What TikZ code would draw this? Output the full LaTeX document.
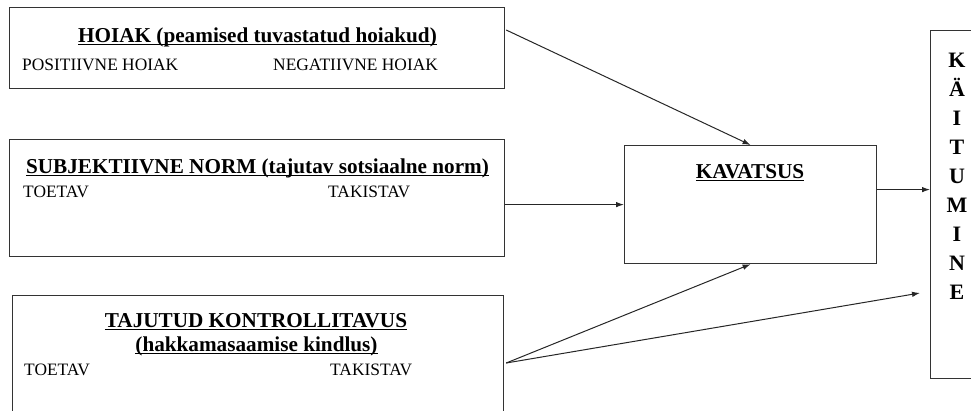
\documentclass[tikz,border=0pt]{standalone}
\usepackage{fontspec}
\setmainfont{Liberation Serif}
\usetikzlibrary{arrows.meta,calc}
\newcommand\myul[1]{\setbox0\hbox{#1}\rlap{\rule[-2.6pt]{\wd0}{1.1pt}}\box0}
\begin{document}
\begin{tikzpicture}[x=1pt,y=-1pt,
  box/.style={draw=black!80,line width=1.2pt,rectangle,anchor=north west,inner sep=0},
  ttl/.style={font=\fontsize{21.2}{24}\selectfont\bfseries,inner sep=0,anchor=base},
  sub/.style={font=\fontsize{17.4}{20}\selectfont,inner sep=0,anchor=base west},
  arr/.style={draw=black!85,line width=1pt,-{Latex[length=8pt,width=5.5pt]}}]
\useasboundingbox (0,0) rectangle (971,410);
\clip (0,0) rectangle (971,410);
% boxes
\node[box,minimum width=495pt,minimum height=81pt] (b1) at (9,7) {};
\node[box,minimum width=495pt,minimum height=117pt] (b2) at (9,139) {};
\node[box,minimum width=491pt,minimum height=135pt] (b3) at (12,295) {};
\node[box,minimum width=252pt,minimum height=118pt] (kav) at (624,145) {};
\node[box,minimum width=70pt,minimum height=348pt] (kait) at (930,30) {};
% texts box 1
\node[ttl] (t1) at (257.5,42) {\myul{HOIAK (peamised tuvastatud hoiakud)}};
\node[sub] (p1) at (22,70) {POSITIIVNE HOIAK};
\node[sub] (n1) at (273,70) {NEGATIIVNE HOIAK};
% texts box 2
\node[ttl] (t2) at (257.5,173) {\myul{SUBJEKTIIVNE NORM (tajutav sotsiaalne norm)}};
\node[sub] (s2a) at (23,197) {TOETAV};
\node[sub] (s2b) at (328,197) {TAKISTAV};
% texts box 3
\node[ttl] (t3a) at (256,327) {\myul{TAJUTUD KONTROLLITAVUS}};
\node[ttl] (t3b) at (256.5,351) {\myul{(hakkamasaamise kindlus)}};
\node[sub] (s3a) at (24,375) {TOETAV};
\node[sub] (s3b) at (330,375) {TAKISTAV};
% kavatsus
\node[ttl] (tk) at (750,178) {\myul{KAVATSUS}};
% kaitumine letters
\foreach \L [count=\i from 0] in {K,Ä,I,T,U,M,I,N,E}
  \node[ttl,font=\fontsize{22}{24}\selectfont\bfseries] (L\i) at (957,67+29.1*\i) {\L};
% connectors
\coordinate (b1o) at ($(b1.north east)+(1,23)$);
\draw[arr] (b1o) -- (kav.north);
\draw[arr] (b2.east |- kav.west) -- (kav.west);
\coordinate (b3o) at ($(b3.north east)+(2,68)$);
\draw[arr] (b3o) -- (kav.south);
\coordinate (ke) at (920,293);
\draw[arr] (b3o) -- (ke);
\draw[arr] ($(kav.east)+(0,-15)$) -- ($(kait.west)+(0,-15)$);
\end{tikzpicture}
\end{document}
